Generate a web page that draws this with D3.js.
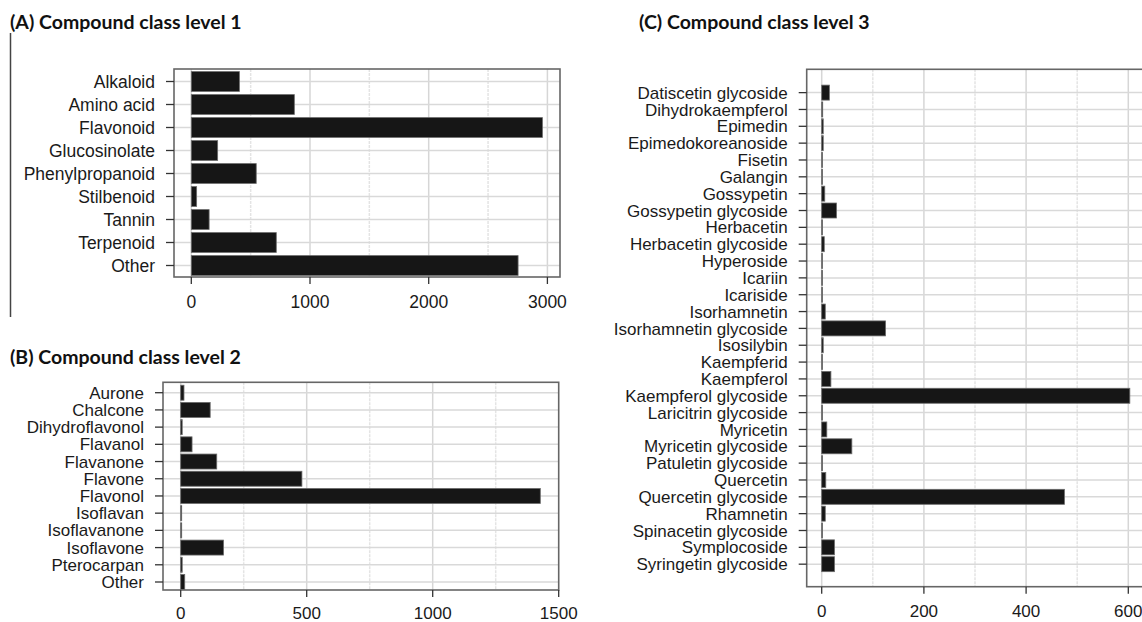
<!DOCTYPE html>
<html>
<head>
<meta charset="utf-8">
<script src="https://cdn.jsdelivr.net/npm/d3@7"></script>
<style>
  body { margin: 0; background: #fff; }
  .title { font-family: Lato, "Open Sans", sans-serif; font-weight: bold; font-size: 19.5px; fill: #111; }
  .lbl { font-family: "Liberation Sans", Arial, sans-serif; fill: #1a1a1a; }
</style>
</head>
<body>
<div id="chart"></div>
<script>
// ---- data ----
const level1Names = ["Alkaloid", "Amino acid", "Flavonoid", "Glucosinolate", "Phenylpropanoid",
  "Stilbenoid", "Tannin", "Terpenoid", "Other"];
const level1Counts = [405, 868, 2958, 222, 547, 45, 150, 716, 2753];
const level1Ticks = [0, 1000, 2000, 3000];

const level2Names = ["Aurone", "Chalcone", "Dihydroflavonol", "Flavanol", "Flavanone", "Flavone",
  "Flavonol", "Isoflavan", "Isoflavanone", "Isoflavone", "Pterocarpan", "Other"];
const level2Counts = [13, 117, 6, 45, 143, 481, 1427, 4, 4, 170, 6, 16];
const level2Ticks = [0, 500, 1000, 1500];

const level3Names = ["Datiscetin glycoside", "Dihydrokaempferol", "Epimedin", "Epimedokoreanoside",
  "Fisetin", "Galangin", "Gossypetin", "Gossypetin glycoside", "Herbacetin", "Herbacetin glycoside",
  "Hyperoside", "Icariin", "Icariside", "Isorhamnetin", "Isorhamnetin glycoside", "Isosilybin",
  "Kaempferid", "Kaempferol", "Kaempferol glycoside", "Laricitrin glycoside", "Myricetin",
  "Myricetin glycoside", "Patuletin glycoside", "Quercetin", "Quercetin glycoside", "Rhamnetin",
  "Spinacetin glycoside", "Symplocoside", "Syringetin glycoside"];
const level3Counts = [15, 2, 3, 3, 1, 1, 6, 29, 1, 5, 1, 1, 1, 7, 125, 3, 1, 18, 603, 1, 10, 59, 1, 8,
  475, 7, 1, 25, 25];
const level3Ticks = [0, 200, 400, 600];

const width = 1142, height = 622;

const svg = d3.select("#chart").append("svg")
  .attr("width", width)
  .attr("height", height);

// left rule beside panel A
svg.append("line")
  .attr("x1", 10.5).attr("x2", 10.5).attr("y1", 33).attr("y2", 317)
  .attr("stroke", "#444").attr("stroke-width", 1.5);

function drawPanel(p) {
  const g = svg.append("g");

  const x = d3.scaleLinear().domain([0, p.ticks[p.ticks.length - 1]]).range(p.xRange);
  const y = d3.scaleBand().domain(p.names).range(p.yRange).paddingInner(p.pad).paddingOuter(p.pad / 2);
  const data = p.names.map((n, i) => ({ name: n, value: p.values[i] }));

  g.append("text").attr("class", "title")
    .attr("x", p.titleX).attr("y", p.titleY)
    .text(p.title);

  // grid: minor lines between ticks, major at ticks
  const gridVals = d3.range(0, p.ticks[p.ticks.length - 1] + p.minorStep * 2, p.minorStep)
    .filter(v => x(v) < p.box[1]);
  g.append("g").selectAll("line")
    .data(gridVals)
    .enter()
    .append("line")
    .attr("x1", d => x(d)).attr("x2", d => x(d))
    .attr("y1", p.box[2]).attr("y2", p.box[3])
    .attr("stroke", d => p.ticks.includes(d) ? "#d6d6d6" : "#e4e4e4")
    .attr("stroke-width", 1.5)
    .attr("stroke-dasharray", d => p.ticks.includes(d) ? null : "3,1");

  g.append("g").selectAll("line")
    .data(p.names)
    .enter()
    .append("line")
    .attr("x1", p.box[0]).attr("x2", p.box[1])
    .attr("y1", d => y(d) + y.bandwidth() / 2).attr("y2", d => y(d) + y.bandwidth() / 2)
    .attr("stroke", "#d9d9d9")
    .attr("stroke-width", 1.5);

  // bars
  g.append("g").selectAll("rect")
    .data(data)
    .enter()
    .append("rect")
    .attr("x", x(0))
    .attr("y", d => y(d.name))
    .attr("width", d => Math.max(0.8, x(d.value) - x(0)))
    .attr("height", y.bandwidth())
    .attr("fill", "#161616")
    .attr("stroke", "#6a6a6a")
    .attr("stroke-width", 0.8);

  // frame
  g.append("rect")
    .attr("x", p.box[0]).attr("y", p.box[2])
    .attr("width", p.box[1] - p.box[0]).attr("height", p.box[3] - p.box[2])
    .attr("fill", "none")
    .attr("stroke", "#666")
    .attr("stroke-width", 1.6);

  // y ticks and labels
  g.append("g").selectAll("line")
    .data(p.names)
    .enter()
    .append("line")
    .attr("x1", p.box[0] - 8).attr("x2", p.box[0])
    .attr("y1", d => y(d) + y.bandwidth() / 2).attr("y2", d => y(d) + y.bandwidth() / 2)
    .attr("stroke", "#333").attr("stroke-width", 1.3);

  g.append("g").selectAll("text")
    .data(p.names)
    .enter()
    .append("text")
    .attr("class", "lbl")
    .text(d => d)
    .attr("x", p.box[0] - 19)
    .attr("y", d => y(d) + y.bandwidth() / 2)
    .attr("dy", "0.36em")
    .style("text-anchor", "end")
    .style("font-size", p.fontSize + "px");

  // x ticks and labels
  g.append("g").selectAll("line")
    .data(p.ticks)
    .enter()
    .append("line")
    .attr("x1", d => x(d)).attr("x2", d => x(d))
    .attr("y1", p.box[3]).attr("y2", p.box[3] + 7)
    .attr("stroke", "#333").attr("stroke-width", 1.3);

  g.append("g").selectAll("text")
    .data(p.ticks)
    .enter()
    .append("text")
    .attr("class", "lbl")
    .text(d => d)
    .attr("x", d => x(d))
    .attr("y", p.tickY)
    .attr("dy", "0.36em")
    .style("text-anchor", "middle")
    .style("font-size", p.fontSize + "px");
}

drawPanel({
  title: "(A) Compound class level 1", titleX: 10, titleY: 29,
  names: level1Names, values: level1Counts, ticks: level1Ticks, minorStep: 500,
  xRange: [191.3, 547.4], yRange: [70, 277], pad: 0.14,
  box: [174, 560, 69, 277], tickY: 302, fontSize: 17.5
});

drawPanel({
  title: "(B) Compound class level 2", titleX: 10, titleY: 364,
  names: level2Names, values: level2Counts, ticks: level2Ticks, minorStep: 250,
  xRange: [180.7, 558.7], yRange: [384.1, 590.6], pad: 0.13,
  box: [163, 558.7, 382.3, 590], tickY: 613, fontSize: 17
});

drawPanel({
  title: "(C) Compound class level 3", titleX: 639, titleY: 29,
  names: level3Names, values: level3Counts, ticks: level3Ticks, minorStep: 100,
  xRange: [821.7, 1128.3], yRange: [84.2, 572.6], pad: 0.11,
  box: [806.7, 1150, 69.3, 586.7], tickY: 611, fontSize: 17
});
</script>
</body>
</html>
